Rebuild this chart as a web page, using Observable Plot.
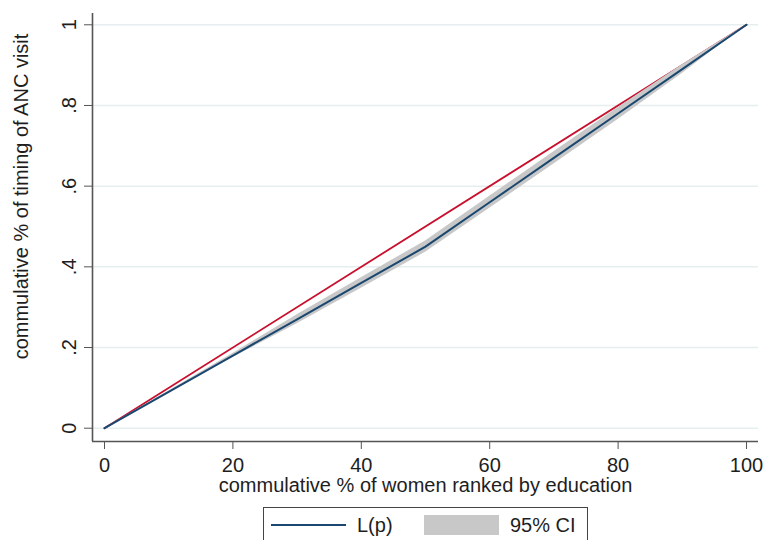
<!DOCTYPE html>
<html>
<head>
<meta charset="utf-8">
<script src="https://cdn.jsdelivr.net/npm/d3@7"></script>
<script src="https://cdn.jsdelivr.net/npm/@observablehq/plot@0.6"></script>
<style>
  html, body { margin: 0; padding: 0; background: #fff; }
  body { width: 764px; height: 540px; overflow: hidden; font-family: "Liberation Sans", Arial, sans-serif; }
  #legend { position: relative; width: 764px; height: 40px; }
</style>
</head>
<body>
<div id="chart"></div>
<div id="legend"></div>
<script>
// Data
const pctWomen = [0, 10, 20, 30, 40, 50, 60, 70, 80, 90, 100];
const lorenz   = [0, 0.09, 0.18, 0.27, 0.36, 0.45, 0.56, 0.67, 0.78, 0.89, 1];
const ciLow    = [0, 0.088, 0.175, 0.259, 0.347, 0.436, 0.545, 0.655, 0.765, 0.879, 1];
const ciHigh   = [0, 0.092, 0.185, 0.281, 0.373, 0.464, 0.575, 0.685, 0.795, 0.901, 1];
const equality = [[0, 0], [100, 1]];
const xTicks = [0, 20, 40, 60, 80, 100];
const yTicks = [0, 0.2, 0.4, 0.6, 0.8, 1];
const xTitle = "commulative % of women ranked by education";
const yTitle = "commulative % of timing of ANC visit";
const legendLabels = ["L(p)", "95% CI"];
const xDomain = [-1.87, 101.87];
const yDomain = [-0.033, 1.028];

const curve = pctWomen.map((p, i) => ({p, L: lorenz[i], lo: ciLow[i], hi: ciHigh[i]}));
const eq = equality.map(([p, v]) => ({p, v}));

const navy = "#1a476f";
const red = "#c8102e";
const band = "#c8c8c8";
const grid = "#e6eef0";
const axisCol = "#555";
const txt = "#1e1e1e";
const font = "'Liberation Sans', Arial, sans-serif";

const yFmt = d => d === 0 ? "0" : d === 1 ? "1" : String(d).replace(/^0/, "");

const chart = Plot.plot({
  width: 764,
  height: 500,
  marginLeft: 92,
  marginRight: 6,
  marginTop: 13,
  marginBottom: 59,
  style: {fontFamily: font, fontSize: "20px", color: txt, background: "white"},
  x: {domain: xDomain},
  y: {domain: yDomain},
  marks: [
    Plot.gridY(yTicks, {stroke: grid, strokeOpacity: 1, strokeWidth: 1.5}),
    Plot.line(eq, {x: "p", y: "v", stroke: red, strokeWidth: 1.8}),
    Plot.areaY(curve, {x: "p", y1: "lo", y2: "hi", fill: band, fillOpacity: 1}),
    Plot.line(curve, {x: "p", y: "L", stroke: navy, strokeWidth: 2}),
    Plot.ruleX([xDomain[0]], {stroke: axisCol, strokeWidth: 1.6}),
    Plot.ruleY([yDomain[0]], {stroke: axisCol, strokeWidth: 1.6}),
    Plot.axisX(xTicks, {tickSize: 8, tickPadding: 8, stroke: axisCol, label: null, fontSize: 20, fill: txt}),
    Plot.axisY(yTicks, {tickSize: 8, tickPadding: 9, tickRotate: -90, tickFormat: yFmt, stroke: axisCol, label: null, fontSize: 20, fill: txt}),
    Plot.text([xTitle], {frameAnchor: "bottom", lineAnchor: "middle", textAnchor: "middle", dy: 44, fontSize: 20, fill: txt, text: d => d}),
    Plot.text([yTitle], {frameAnchor: "left", lineAnchor: "middle", textAnchor: "middle", rotate: -90, dx: -71, dy: -31, fontSize: 20, fill: txt, text: d => d})
  ]
});
document.getElementById("chart").appendChild(chart);

// Legend (below the plot SVG)
const lg = d3.select("#legend").append("svg").attr("width", 764).attr("height", 40)
  .style("font-family", font);
lg.append("rect").attr("x", 263.5).attr("y", 7.5).attr("width", 324).attr("height", 40)
  .attr("fill", "white").attr("stroke", "#444").attr("stroke-width", 1);
lg.append("line").attr("x1", 271).attr("x2", 346).attr("y1", 25).attr("y2", 25)
  .attr("stroke", navy).attr("stroke-width", 2);
lg.append("text").attr("x", 357).attr("y", 32).attr("font-size", 20).attr("fill", txt).text(legendLabels[0]);
lg.append("rect").attr("x", 424).attr("y", 15).attr("width", 75).attr("height", 20).attr("fill", band);
lg.append("text").attr("x", 510).attr("y", 32).attr("font-size", 20).attr("fill", txt).text(legendLabels[1]);
</script>
</body>
</html>
